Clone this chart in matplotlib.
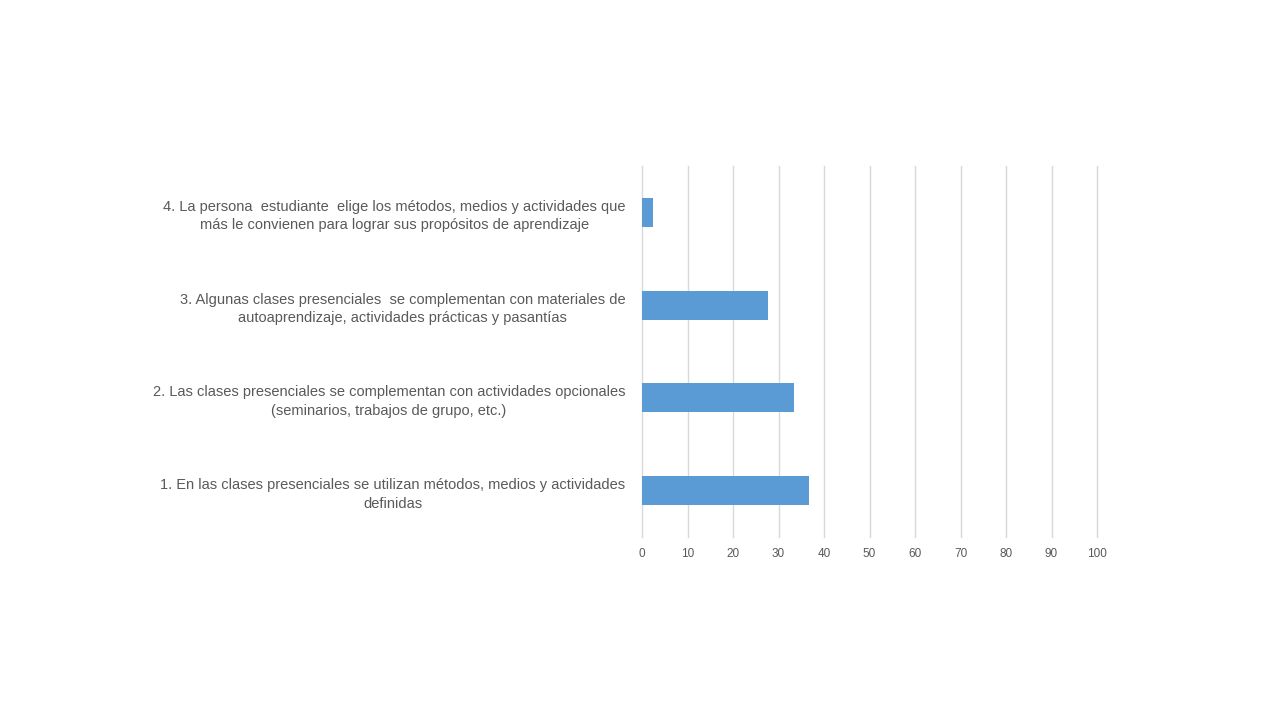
import matplotlib
matplotlib.use("Agg")
import matplotlib.pyplot as plt

categories = [
    "1. En las clases presenciales se utilizan métodos, medios y actividades\ndefinidas",
    "2. Las clases presenciales se complementan con actividades opcionales\n(seminarios, trabajos de grupo, etc.)",
    "3. Algunas clases presenciales  se complementan con materiales de\nautoaprendizaje, actividades prácticas y pasantías",
    "4. La persona  estudiante  elige los métodos, medios y actividades que\nmás le convienen para lograr sus propósitos de aprendizaje",
]
values = [36.6, 33.3, 27.6, 2.5]
xticks = [0, 10, 20, 30, 40, 50, 60, 70, 80, 90, 100]

plt.rcParams['font.family'] = ['Liberation Sans', 'DejaVu Sans']

fig = plt.figure(figsize=(12.8, 7.2), dpi=100)
ax = fig.add_axes([642/1280, 1-537/720, (1097-642)/1280, (537-166)/720])

ypos = list(range(len(categories)))
ax.barh(ypos, values, height=0.31, color='#5B9BD5', zorder=3)
ax.set_xlim(0, 100)
ax.set_ylim(-0.5, len(categories) - 0.5)
ax.set_xticks(xticks)
ax.set_xticklabels([str(t) for t in xticks], fontsize=8.5, color='#595959')
ax.set_yticks(ypos)
ax.set_yticklabels(categories, fontsize=10.5, color='#595959',
                   multialignment='center', linespacing=1.4)
ax.tick_params(axis='x', length=0, pad=8)
ax.tick_params(axis='y', length=0, pad=12)
ax.grid(axis='x', color='#D9D9D9', linewidth=1, zorder=0)
for gl in ax.get_xgridlines():
    gl.set_clip_on(False)
for s in ['top', 'right', 'bottom', 'left']:
    ax.spines[s].set_visible(False)

fig.savefig('out.png', dpi=100)
